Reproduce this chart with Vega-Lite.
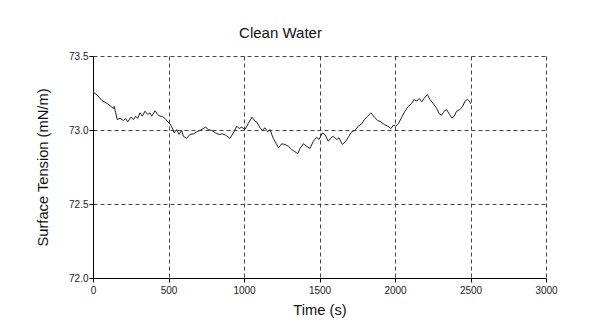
{
  "$schema": "https://vega.github.io/schema/vega-lite/v6.json",
  "autosize": {"type": "none"},
  "padding": {"left": 93, "top": 56, "right": 47, "bottom": 52},
  "width": 453,
  "height": 222,
  "background": "white",
  "title": {"text": "Clean Water", "anchor": "middle", "dx": -39, "offset": 10, "font": "Liberation Sans", "fontSize": 15, "fontWeight": "normal", "color": "#111"},
  "config": {"view": {"stroke": null}},
  "data": {"values": [
    {"t":0,"v":73.255},{"t":24,"v":73.24},{"t":58,"v":73.2},{"t":91,"v":73.18},{"t":119,"v":73.16},{"t":135,"v":73.145},{"t":141,"v":73.16},{"t":150,"v":73.116},{"t":161,"v":73.07},{"t":179,"v":73.08},
    {"t":201,"v":73.064},{"t":216,"v":73.078},{"t":230,"v":73.055},{"t":252,"v":73.087},{"t":267,"v":73.07},{"t":283,"v":73.093},{"t":296,"v":73.078},{"t":311,"v":73.116},{"t":327,"v":73.093},{"t":344,"v":73.127},
    {"t":362,"v":73.105},{"t":377,"v":73.116},{"t":389,"v":73.093},{"t":411,"v":73.13},{"t":428,"v":73.105},{"t":444,"v":73.093},{"t":459,"v":73.093},{"t":477,"v":73.078},{"t":495,"v":73.055},{"t":510,"v":73.042},
    {"t":525,"v":73.015},{"t":538,"v":72.98},{"t":554,"v":73.003},{"t":570,"v":72.97},{"t":587,"v":72.997},{"t":598,"v":72.958},{"t":620,"v":72.943},{"t":642,"v":72.97},{"t":664,"v":72.974},{"t":687,"v":72.988},
    {"t":709,"v":72.997},{"t":730,"v":73.01},{"t":746,"v":73.019},{"t":764,"v":73.003},{"t":786,"v":72.997},{"t":812,"v":72.98},{"t":834,"v":72.97},{"t":856,"v":72.974},{"t":879,"v":72.965},{"t":907,"v":72.943},
    {"t":929,"v":72.98},{"t":952,"v":73.026},{"t":967,"v":73.01},{"t":985,"v":73.019},{"t":1007,"v":73.003},{"t":1029,"v":73.045},{"t":1053,"v":73.087},{"t":1073,"v":73.06},{"t":1084,"v":73.055},{"t":1106,"v":73.015},
    {"t":1121,"v":72.997},{"t":1139,"v":73.015},{"t":1157,"v":72.988},{"t":1172,"v":73.003},{"t":1194,"v":72.943},{"t":1210,"v":72.914},{"t":1228,"v":72.88},{"t":1250,"v":72.907},{"t":1272,"v":72.902},{"t":1294,"v":72.89},
    {"t":1316,"v":72.868},{"t":1338,"v":72.853},{"t":1356,"v":72.84},{"t":1371,"v":72.875},{"t":1393,"v":72.907},{"t":1415,"v":72.89},{"t":1437,"v":72.875},{"t":1459,"v":72.924},{"t":1481,"v":72.951},{"t":1497,"v":72.936},
    {"t":1519,"v":72.98},{"t":1536,"v":72.97},{"t":1558,"v":72.924},{"t":1576,"v":72.947},{"t":1591,"v":72.958},{"t":1614,"v":72.936},{"t":1629,"v":72.947},{"t":1651,"v":72.902},{"t":1674,"v":72.924},{"t":1695,"v":72.958},
    {"t":1713,"v":72.988},{"t":1735,"v":72.997},{"t":1757,"v":73.026},{"t":1780,"v":73.042},{"t":1797,"v":73.071},{"t":1819,"v":73.093},{"t":1841,"v":73.116},{"t":1863,"v":73.087},{"t":1886,"v":73.064},{"t":1907,"v":73.055},
    {"t":1929,"v":73.037},{"t":1952,"v":73.026},{"t":1974,"v":73.01},{"t":1989,"v":73.033},{"t":2005,"v":73.026},{"t":2022,"v":73.042},{"t":2045,"v":73.087},{"t":2066,"v":73.127},{"t":2088,"v":73.16},{"t":2111,"v":73.18},
    {"t":2126,"v":73.206},{"t":2144,"v":73.195},{"t":2161,"v":73.213},{"t":2177,"v":73.19},{"t":2192,"v":73.213},{"t":2214,"v":73.24},{"t":2232,"v":73.206},{"t":2254,"v":73.177},{"t":2276,"v":73.145},{"t":2293,"v":73.11},
    {"t":2309,"v":73.1},{"t":2325,"v":73.127},{"t":2342,"v":73.138},{"t":2361,"v":73.105},{"t":2377,"v":73.082},{"t":2392,"v":73.093},{"t":2408,"v":73.127},{"t":2430,"v":73.138},{"t":2448,"v":73.16},{"t":2464,"v":73.195},
    {"t":2480,"v":73.206},{"t":2493,"v":73.195},{"t":2502,"v":73.177}
  ]},
  "mark": {"type": "line", "color": "#222", "strokeWidth": 1, "interpolate": "linear"},
  "encoding": {
    "x": {"field": "t", "type": "quantitative", "title": "Time (s)",
      "scale": {"domain": [0, 3000], "nice": false, "zero": false},
      "axis": {"values": [0, 500, 1000, 1500, 2000, 2500, 3000], "format": "d",
        "grid": true, "gridColor": "#444", "gridDash": [4, 3], "gridWidth": 1, "gridOpacity": 1,
        "domainColor": "#000", "domainWidth": 1, "tickColor": "#000", "tickSize": 4,
        "labelFont": "Liberation Sans", "labelFontSize": 10, "labelColor": "#222", "labelPadding": 3, "labelFlush": false,
        "titleFont": "Liberation Sans", "titleFontSize": 14.7, "titleFontWeight": "normal", "titleColor": "#111", "titlePadding": 7}},
    "y": {"field": "v", "type": "quantitative", "title": "Surface Tension (mN/m)",
      "scale": {"domain": [72.0, 73.5], "nice": false, "zero": false},
      "axis": {"values": [72.0, 72.5, 73.0, 73.5], "format": ".1f",
        "grid": true, "gridColor": "#444", "gridDash": [4, 3], "gridWidth": 1, "gridOpacity": 1,
        "domainColor": "#000", "domainWidth": 1, "tickColor": "#000", "tickSize": 4,
        "labelFont": "Liberation Sans", "labelFontSize": 10, "labelColor": "#222", "labelPadding": 1, "labelFlush": false,
        "titleFont": "Liberation Sans", "titleFontSize": 14.7, "titleFontWeight": "normal", "titleColor": "#111", "titlePadding": 18.5}}
  }
}
